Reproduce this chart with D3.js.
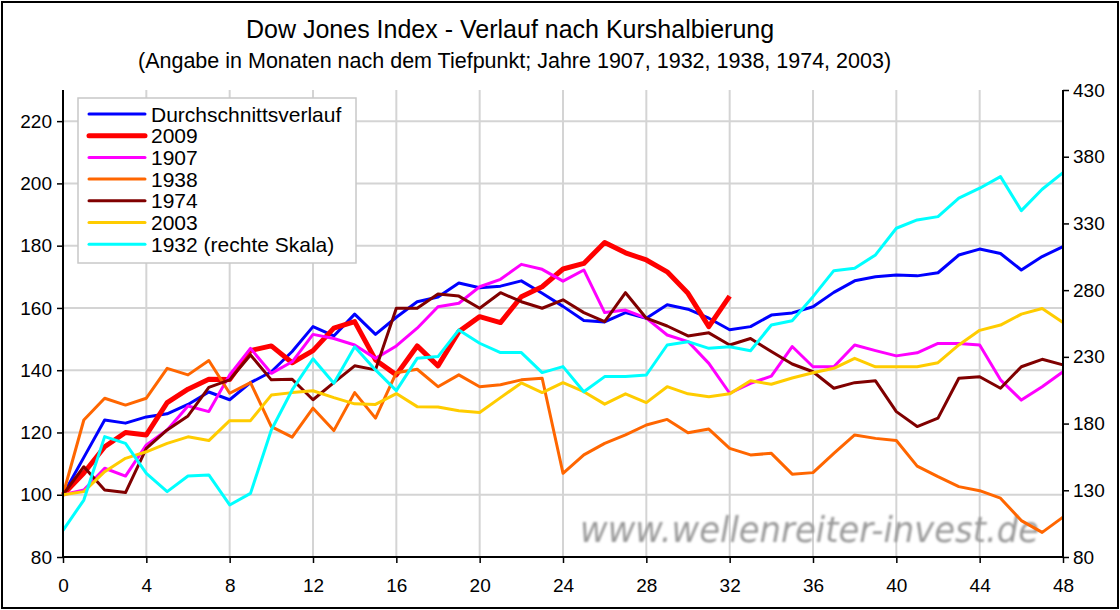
<!DOCTYPE html>
<html>
<head>
<meta charset="utf-8">
<script src="https://cdn.jsdelivr.net/npm/d3@7"></script>
<style>
  body { margin: 0; background: #fff; }
  svg { display: block; font-family: "Liberation Sans", Arial, sans-serif; }
</style>
</head>
<body>
<svg id="chart" width="1120" height="610"></svg>
<script>
// months after the low
var months = d3.range(0, 49);
var xTicks = d3.range(0, 49, 4);
var leftTicks = [80, 100, 120, 140, 160, 180, 200, 220];
var rightTicks = [80, 130, 180, 230, 280, 330, 380, 430];

var avg = [100,112,124,123,125,126,129,133,130.5,136,139.5,146,154,151,158,151.5,157,162,163.5,168,166.5,167,168.7,164.7,160.5,156,155.5,158.5,156.7,161,159.6,156.7,153,154,157.7,158.4,160.4,165,168.7,170,170.6,170.3,171.3,177,178.9,177.5,172.2,176.5,179.7];
var y2009 = [100,107,115.4,120,119.2,129.6,133.9,137.1,137,146.3,147.8,142.4,146.3,153.5,155.6,143.3,138.5,147.8,141.4,152.4,157.2,155.3,163.6,166.8,172.5,174.3,181,177.7,175.4,171.6,164.7,154,163.8];
var y1907 = [100,101.5,108.5,106,116,120.8,128.5,126.7,138.5,147,139,142.7,151.5,150.2,148.1,143.8,147.8,153.5,160.4,161.5,166.8,169.2,174,172.4,168.6,172.2,158.5,159.3,156.7,151.3,149.2,142.2,132.6,135.8,138.1,147.6,141.1,141.1,148.1,146.3,144.6,145.6,148.6,148.6,148.1,136.9,130.4,134.7,139.5];
var y1938 = [100,124,131,128.8,131,140.6,138.5,143.1,132.6,136,121.9,118.5,127.8,120.6,132.8,124.6,139.2,140.3,134.7,138.5,134.7,135.3,136.9,137.4,106.9,112.8,116.5,119.2,122.4,124.2,119.9,121.1,114.9,112.8,113.3,106.6,107.1,113.3,119.2,118.1,117.4,109.2,105.8,102.6,101.3,98.9,91.7,87.9,92.8];
var y1974 = [100,109,101.5,100.7,114.9,120.8,125.3,134.5,136.9,144.9,136.9,137.1,130.5,136,141.4,140.1,159.9,159.9,164.5,163.8,159.9,164.9,162,159.9,162.6,158.5,155.6,164.9,156.7,154.2,151,152,148.1,150.2,146,142,139.5,134.2,136,136.6,126.7,121.9,124.6,137.4,137.9,134.2,141.1,143.5,141.7];
var y2003 = [100,101,107.4,111.7,113.8,116.5,118.6,117.4,123.8,123.8,132,132.8,133.4,131.2,129.2,129,132.5,128.3,128.2,127,126.4,131.2,135.9,132.8,136,133.1,129.1,132.4,129.6,134.7,132.4,131.5,132.4,136.6,135.5,137.5,139.2,140.6,143.8,141.1,141.1,141.1,142.4,148.1,152.8,154.5,158,159.8,155.3];
// 1932 on the right scale
var y1932 = [100,122.7,170.2,165.2,142.7,129,140.7,141.5,119,127.7,175.2,205.2,228.6,210.2,237.6,220.2,204.7,228.9,230.2,250.2,240.2,233.2,233.2,218.2,222.7,203.9,215.2,215.2,216.4,238.9,241.4,236.4,237.6,234.6,253.9,257,275.1,294.6,296.4,306.4,326.4,332.6,335.1,348.9,356.4,365.1,339.6,355.6,368.1];

var series = [
  { name: "Durchschnittsverlauf", values: avg, color: "#0000ff", width: 3, right: false },
  { name: "2009", values: y2009, color: "#ff0000", width: 5, right: false },
  { name: "1907", values: y1907, color: "#ff00ff", width: 3, right: false },
  { name: "1938", values: y1938, color: "#ff6600", width: 3, right: false },
  { name: "1974", values: y1974, color: "#800000", width: 3, right: false },
  { name: "2003", values: y2003, color: "#ffcc00", width: 3, right: false },
  { name: "1932 (rechte Skala)", values: y1932, color: "#00ffff", width: 3, right: true }
];

var svg = d3.select("#chart");
var plotL = 63, plotR = 1063, plotT = 90, plotB = 557;

var x = d3.scaleLinear().domain([0, 48]).range([plotL, plotR]);
var y = d3.scaleLinear().domain([80, 230]).range([plotB, plotT]);
var y2 = d3.scaleLinear().domain([80, 430]).range([plotB, plotT]);

// outer frame
svg.append("rect")
  .attr("x", 2).attr("y", 2).attr("width", 1116).attr("height", 606)
  .attr("fill", "#fff").attr("stroke", "#000").attr("stroke-width", 2);

// titles
svg.append("text").attr("x", 246).attr("y", 38)
  .attr("font-size", 25).attr("fill", "#000")
  .text("Dow Jones Index - Verlauf nach Kurshalbierung");
svg.append("text").attr("x", 138).attr("y", 68)
  .attr("font-size", 21.5).attr("fill", "#000")
  .text("(Angabe in Monaten nach dem Tiefpunkt; Jahre 1907, 1932, 1938, 1974, 2003)");

// grid
var grid = svg.append("g").attr("stroke", "#d4d4d4").attr("stroke-width", 2);
grid.selectAll(".h").data(leftTicks.slice(1)).enter().append("line")
  .attr("x1", plotL).attr("x2", plotR)
  .attr("y1", function(d) { return y(d); }).attr("y2", function(d) { return y(d); });
grid.selectAll(".v").data(xTicks.slice(1, -1)).enter().append("line")
  .attr("y1", plotT).attr("y2", plotB)
  .attr("x1", function(d) { return x(d); }).attr("x2", function(d) { return x(d); });

// watermark
var defs = svg.append("defs");
defs.append("filter").attr("id", "soft")
  .append("feGaussianBlur").attr("stdDeviation", 0.8);
svg.append("text")
  .attr("x", 580).attr("y", 542)
  .attr("font-family", "DejaVu Sans, sans-serif")
  .attr("font-style", "italic")
  .attr("font-size", 35)
  .attr("textLength", 459).attr("lengthAdjust", "spacingAndGlyphs")
  .attr("fill", "#9a9a9a")
  .attr("filter", "url(#soft)")
  .text("www.wellenreiter-invest.de");

// lines
series.forEach(function(s) {
  var sc = s.right ? y2 : y;
  var line = d3.line()
    .x(function(d, i) { return x(months[i]); })
    .y(function(d) { return sc(d); });
  svg.append("path")
    .datum(s.values)
    .attr("fill", "none")
    .attr("stroke", s.color)
    .attr("stroke-width", s.width)
    .attr("stroke-linejoin", "round")
    .attr("d", line);
});

// axes
var axL = svg.append("g").attr("transform", "translate(" + plotL + ",0)")
  .call(d3.axisLeft(y).tickValues(leftTicks).tickSize(6).tickPadding(5));
var axR = svg.append("g").attr("transform", "translate(" + plotR + ",0)")
  .call(d3.axisRight(y2).tickValues(rightTicks).tickSize(6).tickPadding(4));
var axB = svg.append("g").attr("transform", "translate(0," + plotB + ")")
  .call(d3.axisBottom(x).tickValues(xTicks).tickSize(6).tickPadding(16));

[axL, axR, axB].forEach(function(a) {
  a.select(".domain").attr("stroke", "#000").attr("stroke-width", 2);
  a.selectAll(".tick line").attr("stroke", "#000").attr("stroke-width", 1.5);
  a.selectAll(".tick text").attr("font-size", 19).attr("fill", "#000")
    .attr("font-family", "Liberation Sans, Arial, sans-serif");
});
axL.select(".domain").attr("d", "M0," + plotT + "V" + plotB);
axR.select(".domain").attr("d", "M0," + plotT + "V" + plotB);
axB.select(".domain").attr("d", "M" + plotL + ",0H" + plotR);

// legend
var lg = svg.append("g");
lg.append("rect").attr("x", 78).attr("y", 98).attr("width", 278).attr("height", 165)
  .attr("fill", "#fff").attr("stroke", "#c8c8c8").attr("stroke-width", 1.5);
var rows = lg.selectAll(".row").data(series).enter().append("g")
  .attr("transform", function(d, i) { return "translate(0," + (114 + i * 21.7) + ")"; });
rows.append("line").attr("x1", 89).attr("x2", 145).attr("y1", 0).attr("y2", 0)
  .attr("stroke", function(d) { return d.color; })
  .attr("stroke-width", function(d) { return d.width; })
  .attr("stroke-linecap", "round");
rows.append("text").attr("x", 151).attr("y", 7.5)
  .attr("font-size", 21).attr("fill", "#000")
  .text(function(d) { return d.name; });
</script>
</body>
</html>
